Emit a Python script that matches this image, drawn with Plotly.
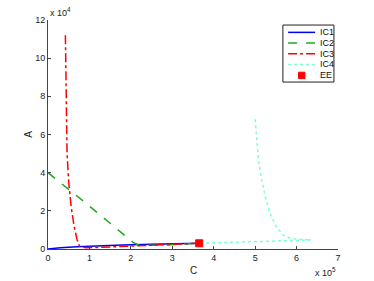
import plotly.graph_objects as go

# Data (C in raw units, A in raw units)
ic1_C = [0, 30000, 70000, 120000, 180000, 250000, 310000, 365000]
ic1_A = [0, 700, 1200, 1700, 2100, 2500, 2800, 3000]

ic2_C = [0, 50000, 100000, 150000, 190000, 205000, 220000, 260000, 310000, 365000]
ic2_A = [40000, 31500, 22500, 13500, 6500, 3500, 2000, 1900, 2400, 3000]

ic3_C = [42000, 43000, 44000, 46000, 50000, 56000, 63000, 70000, 76000, 90000, 120000, 180000, 250000, 310000, 365000]
ic3_A = [112000, 90000, 70000, 50000, 35000, 22000, 12000, 5000, 1500, 700, 800, 1300, 2000, 2600, 3000]

ic4_C = [500000, 503000, 508000, 515000, 525000, 535000, 550000, 567000, 585000, 605000, 635000, 600000, 550000, 500000, 450000, 400000, 365000]
ic4_A = [68000, 58000, 47000, 37000, 27000, 19000, 12000, 7400, 5600, 5000, 4800, 4500, 4200, 3800, 3500, 3200, 3000]

ee_C = [365000]
ee_A = [3000]

x_tickvals = [0, 100000, 200000, 300000, 400000, 500000, 600000, 700000]
x_ticktext = ["0", "1", "2", "3", "4", "5", "6", "7"]
y_tickvals = [0, 20000, 40000, 60000, 80000, 100000, 120000]
y_ticktext = ["0", "2", "4", "6", "8", "10", "12"]

series_names = ["IC1", "IC2", "IC3", "IC4", "EE"]
series_colors = ["#0000ff", "#22a722", "#ff0000", "#7fffd4", "#ff0000"]
series_dash = ["solid", "dash", "dashdot", "dot", None]

FONT = "Liberation Sans, Arial, sans-serif"

fig = go.Figure()
for name, cx, ay, col, dsh in zip(series_names[:4], [ic1_C, ic2_C, ic3_C, ic4_C],
                                  [ic1_A, ic2_A, ic3_A, ic4_A], series_colors[:4], series_dash[:4]):
    fig.add_trace(go.Scatter(x=cx, y=ay, mode="lines", name=name,
                             line=dict(color=col, width=1.5, dash=dsh)))
fig.add_trace(go.Scatter(x=ee_C, y=ee_A, mode="markers", name="EE",
                         marker=dict(symbol="square", color="#ff0000", size=7,
                                     line=dict(color="#ff0000", width=1))))

# Compact MATLAB-style legend built from shapes/annotations (paper coords)
shapes = [dict(type="rect", xref="paper", yref="paper", x0=0.810, x1=0.986,
               y0=0.729, y1=0.978, line=dict(color="#222", width=1),
               fillcolor="white", layer="above")]
annotations = []
item_y = [0.946, 0.900, 0.853, 0.806, 0.758]
for i, name in enumerate(series_names):
    yy = item_y[i]
    if series_dash[i] is not None:
        shapes.append(dict(type="line", xref="paper", yref="paper", x0=0.828, x1=0.921,
                           y0=yy, y1=yy, layer="above",
                           line=dict(color=series_colors[i], width=1.5, dash=series_dash[i])))
    else:
        shapes.append(dict(type="rect", xref="paper", yref="paper",
                           x0=0.875 - 0.011, x1=0.875 + 0.011, y0=yy - 0.014, y1=yy + 0.014,
                           layer="above", fillcolor="#ff0000", line=dict(color="#ff0000", width=1)))
    annotations.append(dict(text=name, xref="paper", yref="paper", x=0.931, y=yy,
                            xanchor="left", yanchor="middle", showarrow=False,
                            font=dict(size=9, color="#111")))

annotations += [
    dict(text="x 10<sup>4</sup>", xref="paper", yref="paper", x=0.0, y=1.0,
         xanchor="left", yanchor="bottom", showarrow=False, font=dict(size=9)),
    dict(text="x 10<sup>5</sup>", xref="paper", yref="paper", x=1.0, y=-0.065,
         xanchor="right", yanchor="top", showarrow=False, font=dict(size=9)),
    dict(text="A", xref="paper", yref="paper", x=-0.068, y=0.5,
         xanchor="center", yanchor="middle", showarrow=False, textangle=-90,
         font=dict(size=10)),
    dict(text="C", xref="paper", yref="paper", x=0.5, y=-0.06,
         xanchor="center", yanchor="top", showarrow=False, font=dict(size=10)),
]

fig.update_layout(
    width=374, height=281,
    margin=dict(l=48, r=36, t=20, b=32),
    paper_bgcolor="white", plot_bgcolor="white",
    font=dict(family=FONT, size=9, color="#222"),
    showlegend=False,
    xaxis=dict(range=[0, 700000], tickvals=x_tickvals, ticktext=x_ticktext,
               showgrid=False, zeroline=False, showline=True, linecolor="#444",
               linewidth=1, ticks="inside", ticklen=3, tickcolor="#444",
               tickfont=dict(size=9)),
    yaxis=dict(range=[0, 120000], tickvals=y_tickvals, ticktext=y_ticktext,
               showgrid=False, zeroline=False, showline=True, linecolor="#444",
               linewidth=1, ticks="inside", ticklen=3, tickcolor="#444",
               tickfont=dict(size=9)),
    shapes=shapes,
    annotations=annotations,
)

fig.write_html("out.html", config={"displayModeBar": False},
               post_script="document.body.style.margin='0';")
